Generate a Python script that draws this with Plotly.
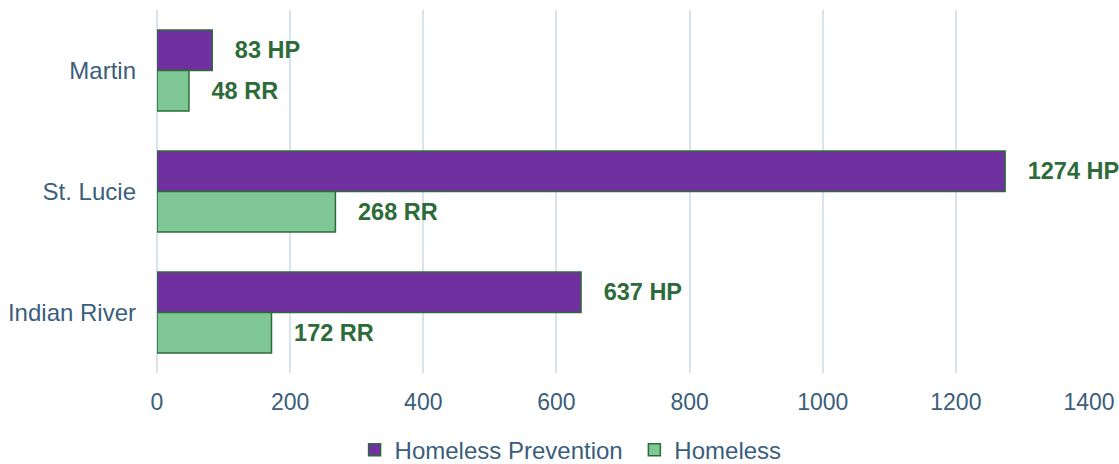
import plotly.graph_objects as go

categories = ["Martin", "St. Lucie", "Indian River"]
prevention = [83, 1274, 637]
homeless = [48, 268, 172]
prevention_labels = ["83 HP", "1274 HP", "637 HP"]
homeless_labels = ["48 RR", "268 RR", "172 RR"]
x_ticks = [0, 200, 400, 600, 800, 1000, 1200, 1400]

FONT = "Liberation Sans, Arial, sans-serif"
label_color = "#2E6B3A"
axis_color = "#3A5E7B"
grid_color = "#D9E3EC"
pad = "   "

fig = go.Figure()
fig.add_trace(go.Bar(
    y=categories, x=prevention, orientation="h", name="Homeless Prevention\u00a0",
    marker=dict(color="#7030A0", line=dict(color="#2E6B3A", width=1.5)),
    text=[pad + t for t in prevention_labels], textposition="outside",
    textfont=dict(family=FONT, size=23.5, color=label_color),
    texttemplate="<b>%{text}</b>", cliponaxis=False,
))
fig.add_trace(go.Bar(
    y=categories, x=homeless, orientation="h", name="Homeless",
    marker=dict(color="#7FC794", line=dict(color="#2E6B3A", width=1.5)),
    text=[pad + t for t in homeless_labels], textposition="outside",
    textfont=dict(family=FONT, size=23.5, color=label_color),
    texttemplate="<b>%{text}</b>", cliponaxis=False,
))

fig.update_layout(
    width=1119, height=464,
    margin=dict(l=157, r=30, t=10, b=91, autoexpand=False),
    barmode="group", bargap=0.33, bargroupgap=0,
    plot_bgcolor="white", paper_bgcolor="white",
    font=dict(family=FONT, size=23, color=axis_color),
    legend=dict(orientation="h", x=0.212, xanchor="left", xref="paper",
                y=0.03, yanchor="middle", yref="container",
                font=dict(family=FONT, size=24, color=axis_color), itemwidth=30,
                traceorder="normal"),
    xaxis=dict(range=[0, 1400], tickvals=x_ticks, showgrid=True, gridcolor=grid_color,
               gridwidth=1.5, zeroline=True, zerolinecolor=grid_color, zerolinewidth=1.5,
               showline=False, ticks="", ticklabelstandoff=13,
               tickfont=dict(family=FONT, size=23, color=axis_color)),
    yaxis=dict(autorange="reversed", showgrid=False, showline=False, ticks="",
               ticklabelstandoff=20,
               tickfont=dict(family=FONT, size=24, color=axis_color)),
)

fig.write_html("out.html", config={"displayModeBar": False},
               post_script="document.body.style.margin='0';")
